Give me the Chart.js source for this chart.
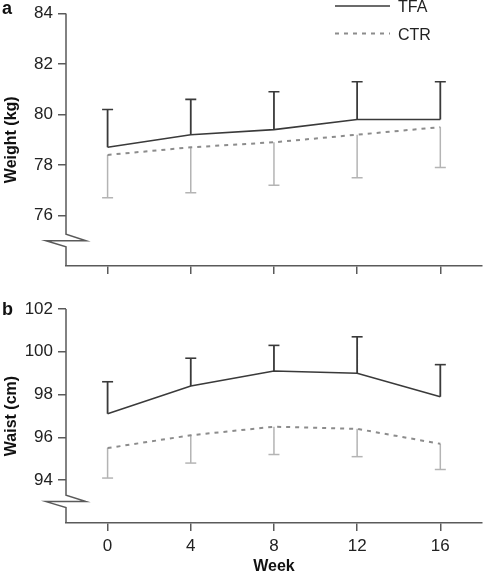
<!DOCTYPE html>
<html lang="en">
<head>
<meta charset="UTF-8">
<title>Weight and waist by week</title>
<script src="https://cdn.jsdelivr.net/npm/chart.js"></script>
<style>
  body { margin: 0; background: #fff; }
  canvas { display: block; }
</style>
</head>
<body>
<canvas id="weightChart" width="489" height="280"></canvas>
<canvas id="waistChart" width="489" height="298"></canvas>
<script>
const weeks = [0, 4, 8, 12, 16];

// panel a - weight (kg), mean and one-sided SD
const weightTFA = [78.7, 79.2, 79.4, 79.8, 79.8];
const weightTFAUpper = [80.2, 80.6, 80.9, 81.3, 81.3];
const weightCTR = [78.4, 78.7, 78.9, 79.2, 79.5];
const weightCTRLower = [76.7, 76.9, 77.2, 77.5, 77.9];
const weightTicks = [76, 78, 80, 82, 84];

// panel b - waist (cm)
const waistTFA = [97.1, 98.4, 99.1, 99.0, 97.9];
const waistTFAUpper = [98.6, 99.7, 100.3, 100.7, 99.4];
const waistCTR = [95.5, 96.1, 96.5, 96.4, 95.7];
const waistCTRLower = [94.1, 94.8, 95.2, 95.1, 94.5];
const waistTicks = [94, 96, 98, 100, 102];

const FONT = '"Liberation Sans", Arial, Helvetica, sans-serif';
const tfaColor = '#3a3a3a';
const ctrColor = '#8c8c8c';
const ctrBarColor = '#b4b4b4';
const axisColor = '#5a5a5a';
const textColor = '#222';

const points = vals => weeks.map((w, i) => ({ x: w, y: vals[i] }));

// vertical error-bar stems, broken by nulls between weeks
const stems = (from, to) => {
  const out = [];
  weeks.forEach((w, i) => {
    out.push({ x: w, y: from[i] }, { x: w, y: to[i] }, { x: w, y: null });
  });
  return out;
};

// axis break, letters and legend
const panelDecor = {
  id: 'panelDecor',
  afterDraw(chart, args, opts) {
    const ctx = chart.ctx;
    const y = chart.scales.y;
    const area = chart.chartArea;
    const x0 = area.left;
    const yTop = y.getPixelForValue(y.max);
    const yB = y.getPixelForValue(opts.breakAt);
    ctx.save();
    ctx.strokeStyle = axisColor;
    ctx.lineWidth = 1.5;
    ctx.beginPath();
    ctx.moveTo(x0, yTop);
    ctx.lineTo(x0, yB - 6.5);
    ctx.lineTo(x0 + 20, yB);
    ctx.lineTo(x0 - 20, yB);
    ctx.lineTo(x0, yB + 6);
    ctx.lineTo(x0, area.bottom);
    ctx.stroke();

    ctx.fillStyle = '#111';
    ctx.font = 'bold 18px ' + FONT;
    ctx.textBaseline = 'alphabetic';
    ctx.fillText(opts.letter, 2, opts.letterY);

    if (opts.legend) {
      const items = chart.data.datasets.slice(0, 2);
      items.forEach((ds, i) => {
        const ly = 6 + i * 27.5;
        ctx.strokeStyle = ds.borderColor;
        ctx.lineWidth = ds.borderWidth;
        ctx.setLineDash(ds.borderDash || []);
        ctx.beginPath();
        ctx.moveTo(335, ly);
        ctx.lineTo(390, ly);
        ctx.stroke();
        ctx.setLineDash([]);
        ctx.fillStyle = textColor;
        ctx.font = '16px ' + FONT;
        ctx.textBaseline = 'middle';
        ctx.fillText(ds.label, 398, ly + 2);
      });
    }
    ctx.restore();
  }
};

function makePanel(id, o) {
  return new Chart(document.getElementById(id), {
    type: 'line',
    data: {
      datasets: [
        { label: 'TFA', data: points(o.tfa), borderColor: tfaColor, borderWidth: 1.6, pointRadius: 0 },
        { label: 'CTR', data: points(o.ctr), borderColor: ctrColor, borderWidth: 2, borderDash: [4, 5], pointRadius: 0 },
        { label: 'TFA SD', data: stems(o.tfa, o.tfaUp), borderColor: tfaColor, borderWidth: 1.8, pointRadius: 0, spanGaps: false },
        { label: 'TFA cap', data: points(o.tfaUp), showLine: false, pointStyle: 'line', pointRadius: 5.5, pointBorderColor: tfaColor, pointBorderWidth: 1.6 },
        { label: 'CTR SD', data: stems(o.ctr, o.ctrLow), borderColor: ctrBarColor, borderWidth: 1.5, pointRadius: 0, spanGaps: false },
        { label: 'CTR cap', data: points(o.ctrLow), showLine: false, pointStyle: 'line', pointRadius: 5.5, pointBorderColor: ctrBarColor, pointBorderWidth: 1.5 }
      ]
    },
    options: {
      responsive: false,
      animation: false,
      events: [],
      layout: { padding: { top: o.padTop, right: 4, left: 0, bottom: 0 } },
      plugins: {
        legend: { display: false },
        tooltip: { enabled: false },
        panelDecor: { letter: o.letter, letterY: o.letterY, breakAt: o.breakAt, legend: o.legend }
      },
      scales: {
        x: {
          type: 'linear',
          min: -2,
          max: 18,
          afterBuildTicks: s => { s.ticks = weeks.map(v => ({ value: v })); },
          afterFit: s => { s.height = o.xHeight; },
          border: { display: true, color: axisColor, width: 1.5 },
          grid: { drawOnChartArea: false, drawTicks: true, tickLength: 8, color: axisColor, lineWidth: 1.5 },
          ticks: { display: o.xLabels, padding: 5, color: textColor, font: { family: FONT, size: 17 } },
          title: { display: o.xLabels, text: 'Week', color: '#111', font: { family: FONT, size: 16, weight: 'bold' }, padding: { top: 0, bottom: 1.5 } }
        },
        y: {
          min: o.min,
          max: o.max,
          afterBuildTicks: s => { s.ticks = o.ticks.map(v => ({ value: v })); },
          afterFit: s => { s.width = 66; },
          border: { display: false },
          grid: { drawOnChartArea: false, drawTicks: true, tickLength: 8, color: axisColor, lineWidth: 1.5 },
          ticks: { padding: 5, color: textColor, font: { family: FONT, size: 17, lineHeight: 1 } },
          title: { display: true, text: o.title, color: '#111', font: { family: FONT, size: 16, weight: 'bold' }, padding: { top: 2, bottom: 0 } }
        }
      }
    },
    plugins: [panelDecor]
  });
}

makePanel('weightChart', {
  tfa: weightTFA, tfaUp: weightTFAUpper, ctr: weightCTR, ctrLow: weightCTRLower,
  ticks: weightTicks, min: 74, max: 84, breakAt: 75,
  title: 'Weight (kg)', letter: 'a', letterY: 13.5, legend: true,
  padTop: 10, xHeight: 14, xLabels: false
});

makePanel('waistChart', {
  tfa: waistTFA, tfaUp: waistTFAUpper, ctr: waistCTR, ctrLow: waistCTRLower,
  ticks: waistTicks, min: 92, max: 102, breakAt: 93,
  title: 'Waist (cm)', letter: 'b', letterY: 35, legend: false,
  padTop: 29, xHeight: 55, xLabels: true
});
</script>
</body>
</html>
